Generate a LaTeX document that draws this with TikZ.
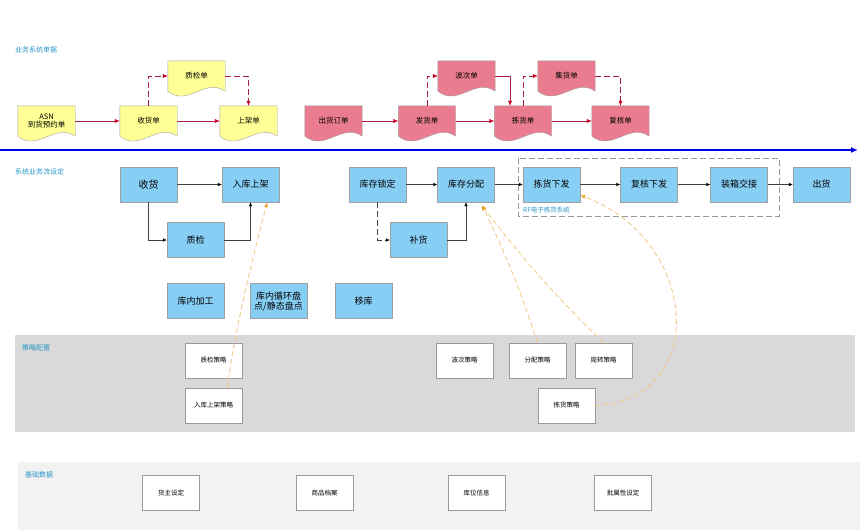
\documentclass[tikz,border=0pt]{standalone}
\usepackage{fontspec}
\setmainfont{Noto Sans CJK SC}
\usepackage{tikz}
\usetikzlibrary{arrows.meta, positioning, calc, backgrounds}
\definecolor{docyellow}{RGB}{255,255,150}
\definecolor{docred}{RGB}{233,124,142}
\definecolor{flowblue}{RGB}{135,206,245}
\definecolor{labelteal}{RGB}{40,150,200}
\definecolor{docarrow}{RGB}{170,30,70}
\definecolor{docarrowtip}{RGB}{200,0,40}
\definecolor{hintorange}{RGB}{240,200,130}
\definecolor{hinttip}{RGB}{240,160,40}
\definecolor{paneldark}{RGB}{217,217,217}
\definecolor{panellight}{RGB}{242,242,242}
\definecolor{mainblue}{RGB}{0,0,225}

\begin{document}
\begin{tikzpicture}[
    x=1pt, y=-1pt,
    flowbox/.style={rectangle, draw=gray!75, fill=flowblue, minimum width=57pt, minimum height=35pt, inner sep=1pt, align=center, font=\fontsize{9}{10}\selectfont},
    rulebox/.style={rectangle, draw=gray!80, fill=white, minimum width=57pt, minimum height=35pt, inner sep=1pt, align=center, font=\fontsize{6.5}{8}\selectfont},
    docbox/.style={rectangle, minimum width=57pt, minimum height=30pt, inner sep=1pt, align=center, font=\fontsize{7.5}{8.5}\selectfont},
    secname/.style={anchor=west, inner sep=0pt, text=labelteal, font=\fontsize{7}{8}\selectfont},
    docline/.style={draw=docarrow, -{Latex[length=5pt,width=4pt,color=docarrowtip]}},
    flowline/.style={draw=black!75, -{Latex[length=4pt,width=3.5pt,color=black]}},
    hintline/.style={draw=hintorange, dashed, dash pattern=on 5pt off 3pt, line width=0.8pt, -{Latex[length=5pt,width=4pt,color=hinttip]}},
    longdash/.style={dash pattern=on 6pt off 3pt}
]
    \useasboundingbox (0,0) rectangle (860,530);

    % panels
    \fill[paneldark] (15,335) rectangle (855,432);
    \fill[panellight] (18,462) rectangle (860,530);

    % section names
    \node[secname] (bizdocs) at (15,50) {业务系统单据};
    \node[secname] (flowset) at (15,172) {系统业务流设定};
    \node[secname] (strategy) at (22,348) {策略配置};
    \node[secname] (basedata) at (25,475) {基础数据};

    % time axis
    \coordinate (axisstart) at (0,150);
    \coordinate (axisend) at (858,150);
    \draw[mainblue, line width=1.6pt, -{Latex[length=7pt,width=6pt]}] (axisstart) -- (axisend);

    % business documents
    \node[docbox] (asn) at (46.5,121) {ASN\\到货预约单};
    \node[docbox] (rcvdoc) at (148.5,121) {收货单};
    \node[docbox] (qcdoc) at (196.5,76) {质检单};
    \node[docbox] (putdoc) at (248.5,121) {上架单};
    \node[docbox] (orderdoc) at (333.5,121) {出货订单};
    \node[docbox] (shipdoc) at (427,121) {发货单};
    \node[docbox] (wavedoc) at (466.5,76) {波次单};
    \node[docbox] (pickdoc) at (523,121) {拣货单};
    \node[docbox] (collectdoc) at (566.5,76) {集货单};
    \node[docbox] (checkdoc) at (620.5,121) {复核单};

    \begin{scope}[on background layer]
        \foreach \n/\c in {asn/docyellow, rcvdoc/docyellow, qcdoc/docyellow, putdoc/docyellow,
                orderdoc/docred, shipdoc/docred, wavedoc/docred, pickdoc/docred, collectdoc/docred, checkdoc/docred}
            \filldraw[fill=\c, draw=gray!75] (\n.north west) -- (\n.north east) -- (\n.south east)
                .. controls +(-20,-14) and +(20,16) .. (\n.south west) -- cycle;
    \end{scope}

    \draw[docline] (asn) -- (rcvdoc);
    \draw[docline] (rcvdoc) -- (putdoc);
    \draw[docline, longdash] (rcvdoc.north) |- (qcdoc.west);
    \draw[docline, longdash] (qcdoc.east) -| (putdoc.north);
    \draw[docline] (orderdoc) -- (shipdoc);
    \draw[docline] (shipdoc) -- (pickdoc);
    \draw[docline] (pickdoc) -- (checkdoc);
    \draw[docline, longdash] (shipdoc.north) |- (wavedoc.west);
    \draw[docline] (wavedoc.east) -| ([xshift=-13pt]pickdoc.north);
    \draw[docline, longdash] (pickdoc.north) |- (collectdoc.west);
    \draw[docline, longdash] (collectdoc.east) -| (checkdoc.north);

    % system flow
    \node[flowbox] (rcv) at (148.5,184.5) {\fontsize{10}{11}\selectfont 收货};
    \node[flowbox] (putaway) at (250.5,184.5) {入库上架};
    \node[flowbox] (qc) at (195.5,240) {质检};
    \node[flowbox] (lock) at (377.5,184.5) {库存锁定};
    \node[flowbox] (replen) at (418.5,240) {补货};
    \node[flowbox] (alloc) at (466,184.5) {库存分配};
    \node[flowbox] (pick) at (551.5,184.5) {拣货下发};
    \node[flowbox] (review) at (649,184.5) {复核下发};
    \node[flowbox] (pack) at (739,184.5) {装箱交接};
    \node[flowbox] (ship) at (821.5,184.5) {出货};
    \node[flowbox] (process) at (195.5,301) {库内加工};
    \node[flowbox] (count) at (278.5,301) {库内循环盘\\点/静态盘点};
    \node[flowbox] (move) at (363.5,301) {移库};

    \draw[gray!80, dashed, dash pattern=on 6pt off 3pt] (518,158) rectangle (779,216);
    \node[secname, font=\fontsize{6.5}{8}\selectfont] (rflabel) at (523,210) {RF电子拣货系统};

    \draw[flowline] (rcv) -- (putaway);
    \draw[flowline] (rcv.south) |- (qc.west);
    \draw[flowline] (qc.east) -| (putaway.south);
    \draw[flowline] (lock) -- (alloc);
    \draw[flowline, longdash] (lock.south) |- (replen.west);
    \draw[flowline] (replen.east) -| (alloc.south);
    \draw[flowline] (alloc) -- (pick);
    \draw[flowline] (pick) -- (review);
    \draw[flowline] (review) -- (pack);
    \draw[flowline] (pack) -- (ship);

    % strategies
    \node[rulebox] (qcrule) at (213.5,360.5) {质检策略};
    \node[rulebox] (putrule) at (213.5,405.5) {入库上架策略};
    \node[rulebox] (waverule) at (464.5,360.5) {波次策略};
    \node[rulebox] (allocrule) at (537.5,360.5) {分配策略};
    \node[rulebox] (turnrule) at (603.5,360.5) {周转策略};
    \node[rulebox] (pickrule) at (566.5,405.5) {拣货策略};

    \draw[hintline] ([xshift=14pt]putrule.north) .. controls (234,330) and (255,250) .. ([xshift=-12pt]putaway.south east);
    \draw[hintline] (allocrule.north) to[bend right=4] ([xshift=-13pt,yshift=-3pt]alloc.south east);
    \draw[hintline] (turnrule.north) to[bend left=4] ([xshift=-13pt,yshift=-3pt]alloc.south east);
    \draw[hintline] (pickrule.east) .. controls (710,400) and (700,240) .. ([yshift=7pt]pick.south east);

    % base data
    \node[rulebox] (owner) at (171,493) {货主设定};
    \node[rulebox] (sku) at (324.5,493) {商品档案};
    \node[rulebox] (loc) at (476.5,493) {库位信息};
    \node[rulebox] (lot) at (623,493) {批属性设定};
\end{tikzpicture}
\end{document}
